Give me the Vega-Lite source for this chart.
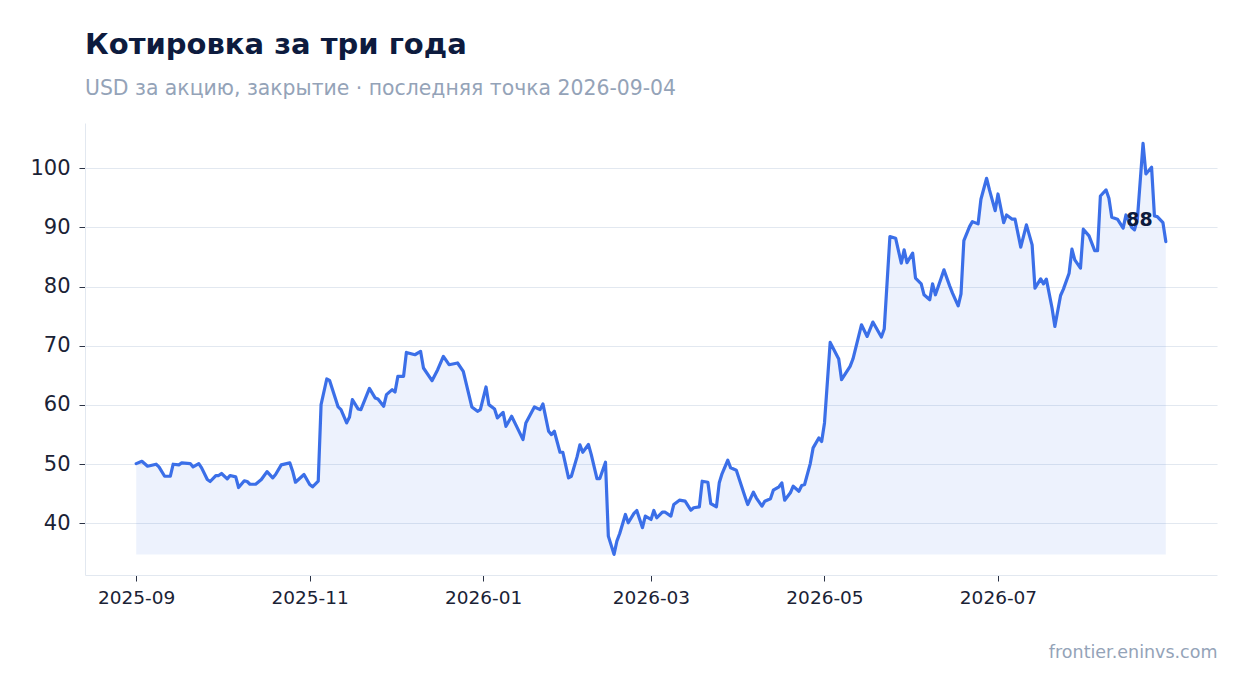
{
  "$schema": "https://vega.github.io/schema/vega-lite/v6.json",
  "width": 1132,
  "height": 452,
  "autosize": {"type": "none"},
  "padding": {"left": 85, "top": 123, "right": 30, "bottom": 118},
  "background": "#ffffff",
  "title": {
    "text": "Котировка за три года",
    "subtitle": "USD за акцию, закрытие · последняя точка 2026-09-04",
    "anchor": "start",
    "frame": "group",
    "font": "DejaVu Sans",
    "fontSize": 29,
    "fontWeight": "bold",
    "color": "#0d1b3e",
    "subtitleFont": "DejaVu Sans",
    "subtitleFontSize": 20.4,
    "subtitleColor": "#94a3b8",
    "subtitlePadding": 19,
    "offset": 24
  },
  "data": {
    "values": [
      {"date": "2025-09-01", "close": 50.1},
      {"date": "2025-09-03", "close": 50.5},
      {"date": "2025-09-05", "close": 49.66},
      {"date": "2025-09-08", "close": 50.0},
      {"date": "2025-09-09", "close": 49.56},
      {"date": "2025-09-11", "close": 47.97},
      {"date": "2025-09-13", "close": 47.97},
      {"date": "2025-09-14", "close": 50.0},
      {"date": "2025-09-16", "close": 49.9},
      {"date": "2025-09-17", "close": 50.23},
      {"date": "2025-09-20", "close": 50.11},
      {"date": "2025-09-21", "close": 49.56},
      {"date": "2025-09-23", "close": 50.11},
      {"date": "2025-09-24", "close": 49.39},
      {"date": "2025-09-26", "close": 47.42},
      {"date": "2025-09-27", "close": 47.08},
      {"date": "2025-09-29", "close": 48.09},
      {"date": "2025-09-30", "close": 48.09},
      {"date": "2025-10-01", "close": 48.43},
      {"date": "2025-10-03", "close": 47.53},
      {"date": "2025-10-04", "close": 48.09},
      {"date": "2025-10-06", "close": 47.87},
      {"date": "2025-10-07", "close": 46.07},
      {"date": "2025-10-09", "close": 47.2},
      {"date": "2025-10-10", "close": 47.08},
      {"date": "2025-10-11", "close": 46.62},
      {"date": "2025-10-13", "close": 46.62},
      {"date": "2025-10-15", "close": 47.42},
      {"date": "2025-10-17", "close": 48.76},
      {"date": "2025-10-19", "close": 47.7},
      {"date": "2025-10-20", "close": 48.26},
      {"date": "2025-10-22", "close": 49.89},
      {"date": "2025-10-25", "close": 50.23},
      {"date": "2025-10-26", "close": 48.82},
      {"date": "2025-10-27", "close": 46.96},
      {"date": "2025-10-30", "close": 48.26},
      {"date": "2025-11-01", "close": 46.57},
      {"date": "2025-11-02", "close": 46.19},
      {"date": "2025-11-04", "close": 47.13},
      {"date": "2025-11-05", "close": 60.06},
      {"date": "2025-11-07", "close": 64.39},
      {"date": "2025-11-08", "close": 64.15},
      {"date": "2025-11-11", "close": 59.67},
      {"date": "2025-11-12", "close": 59.21},
      {"date": "2025-11-14", "close": 56.97},
      {"date": "2025-11-15", "close": 57.98},
      {"date": "2025-11-16", "close": 60.9},
      {"date": "2025-11-18", "close": 59.33},
      {"date": "2025-11-19", "close": 59.21},
      {"date": "2025-11-22", "close": 62.8},
      {"date": "2025-11-24", "close": 61.19},
      {"date": "2025-11-25", "close": 61.02},
      {"date": "2025-11-27", "close": 59.77},
      {"date": "2025-11-28", "close": 61.74},
      {"date": "2025-11-30", "close": 62.59},
      {"date": "2025-12-01", "close": 62.2},
      {"date": "2025-12-02", "close": 64.83},
      {"date": "2025-12-04", "close": 64.83},
      {"date": "2025-12-05", "close": 68.87},
      {"date": "2025-12-08", "close": 68.48},
      {"date": "2025-12-10", "close": 69.04},
      {"date": "2025-12-11", "close": 66.24},
      {"date": "2025-12-14", "close": 64.1},
      {"date": "2025-12-16", "close": 65.96},
      {"date": "2025-12-18", "close": 68.2},
      {"date": "2025-12-20", "close": 66.8},
      {"date": "2025-12-23", "close": 67.09},
      {"date": "2025-12-25", "close": 65.67},
      {"date": "2025-12-28", "close": 59.67},
      {"date": "2025-12-30", "close": 58.93},
      {"date": "2025-12-31", "close": 59.21},
      {"date": "2026-01-02", "close": 63.04},
      {"date": "2026-01-03", "close": 60.06},
      {"date": "2026-01-05", "close": 59.33},
      {"date": "2026-01-06", "close": 57.82},
      {"date": "2026-01-08", "close": 58.76},
      {"date": "2026-01-09", "close": 56.4},
      {"date": "2026-01-11", "close": 58.09},
      {"date": "2026-01-13", "close": 56.13},
      {"date": "2026-01-15", "close": 54.16},
      {"date": "2026-01-16", "close": 56.97},
      {"date": "2026-01-19", "close": 59.67},
      {"date": "2026-01-21", "close": 59.21},
      {"date": "2026-01-22", "close": 60.18},
      {"date": "2026-01-24", "close": 55.56},
      {"date": "2026-01-25", "close": 55.0},
      {"date": "2026-01-26", "close": 55.56},
      {"date": "2026-01-28", "close": 52.02},
      {"date": "2026-01-29", "close": 52.02},
      {"date": "2026-01-31", "close": 47.7},
      {"date": "2026-02-01", "close": 47.97},
      {"date": "2026-02-03", "close": 51.24},
      {"date": "2026-02-04", "close": 53.26},
      {"date": "2026-02-05", "close": 52.02},
      {"date": "2026-02-07", "close": 53.32},
      {"date": "2026-02-08", "close": 51.63},
      {"date": "2026-02-10", "close": 47.58},
      {"date": "2026-02-11", "close": 47.58},
      {"date": "2026-02-13", "close": 50.33},
      {"date": "2026-02-14", "close": 37.86},
      {"date": "2026-02-16", "close": 34.78},
      {"date": "2026-02-17", "close": 37.02},
      {"date": "2026-02-18", "close": 38.31},
      {"date": "2026-02-20", "close": 41.52},
      {"date": "2026-02-21", "close": 40.12},
      {"date": "2026-02-23", "close": 41.69},
      {"date": "2026-02-24", "close": 42.19},
      {"date": "2026-02-26", "close": 39.28},
      {"date": "2026-02-27", "close": 41.23},
      {"date": "2026-03-01", "close": 40.67},
      {"date": "2026-03-02", "close": 42.19},
      {"date": "2026-03-03", "close": 40.96},
      {"date": "2026-03-05", "close": 41.9},
      {"date": "2026-03-06", "close": 41.9},
      {"date": "2026-03-08", "close": 41.23},
      {"date": "2026-03-09", "close": 43.2},
      {"date": "2026-03-11", "close": 43.93},
      {"date": "2026-03-13", "close": 43.76},
      {"date": "2026-03-15", "close": 42.24},
      {"date": "2026-03-16", "close": 42.65},
      {"date": "2026-03-18", "close": 42.81},
      {"date": "2026-03-19", "close": 47.13},
      {"date": "2026-03-21", "close": 46.96},
      {"date": "2026-03-22", "close": 43.37},
      {"date": "2026-03-24", "close": 42.81},
      {"date": "2026-03-25", "close": 46.86},
      {"date": "2026-03-26", "close": 48.43},
      {"date": "2026-03-28", "close": 50.67},
      {"date": "2026-03-29", "close": 49.39},
      {"date": "2026-03-31", "close": 48.98},
      {"date": "2026-04-03", "close": 44.6},
      {"date": "2026-04-04", "close": 43.2},
      {"date": "2026-04-06", "close": 45.28},
      {"date": "2026-04-07", "close": 44.33},
      {"date": "2026-04-09", "close": 42.92},
      {"date": "2026-04-10", "close": 43.76},
      {"date": "2026-04-12", "close": 44.16},
      {"date": "2026-04-13", "close": 45.61},
      {"date": "2026-04-15", "close": 46.19},
      {"date": "2026-04-16", "close": 46.86},
      {"date": "2026-04-17", "close": 43.93},
      {"date": "2026-04-19", "close": 45.17},
      {"date": "2026-04-20", "close": 46.29},
      {"date": "2026-04-22", "close": 45.44},
      {"date": "2026-04-23", "close": 46.4},
      {"date": "2026-04-24", "close": 46.57},
      {"date": "2026-04-26", "close": 50.11},
      {"date": "2026-04-27", "close": 52.76},
      {"date": "2026-04-29", "close": 54.44},
      {"date": "2026-04-30", "close": 53.82},
      {"date": "2026-05-01", "close": 56.97},
      {"date": "2026-05-03", "close": 70.56},
      {"date": "2026-05-06", "close": 67.76},
      {"date": "2026-05-07", "close": 64.27},
      {"date": "2026-05-10", "close": 66.51},
      {"date": "2026-05-11", "close": 67.76},
      {"date": "2026-05-14", "close": 73.54},
      {"date": "2026-05-16", "close": 71.57},
      {"date": "2026-05-18", "close": 74.0},
      {"date": "2026-05-21", "close": 71.47},
      {"date": "2026-05-22", "close": 72.82},
      {"date": "2026-05-24", "close": 88.42},
      {"date": "2026-05-26", "close": 88.15},
      {"date": "2026-05-28", "close": 83.94},
      {"date": "2026-05-29", "close": 86.18},
      {"date": "2026-05-30", "close": 84.04},
      {"date": "2026-06-01", "close": 85.63},
      {"date": "2026-06-02", "close": 81.41},
      {"date": "2026-06-04", "close": 80.45},
      {"date": "2026-06-05", "close": 78.6},
      {"date": "2026-06-07", "close": 77.76},
      {"date": "2026-06-08", "close": 80.45},
      {"date": "2026-06-09", "close": 78.6},
      {"date": "2026-06-11", "close": 81.41},
      {"date": "2026-06-12", "close": 82.81},
      {"date": "2026-06-14", "close": 80.11},
      {"date": "2026-06-15", "close": 78.88},
      {"date": "2026-06-17", "close": 76.74},
      {"date": "2026-06-18", "close": 78.77},
      {"date": "2026-06-19", "close": 87.75},
      {"date": "2026-06-21", "close": 90.11},
      {"date": "2026-06-22", "close": 90.95},
      {"date": "2026-06-24", "close": 90.57},
      {"date": "2026-06-25", "close": 94.73},
      {"date": "2026-06-27", "close": 98.27},
      {"date": "2026-06-28", "close": 96.3},
      {"date": "2026-06-30", "close": 92.81},
      {"date": "2026-07-01", "close": 95.62},
      {"date": "2026-07-03", "close": 90.78},
      {"date": "2026-07-04", "close": 92.08},
      {"date": "2026-07-06", "close": 91.36},
      {"date": "2026-07-07", "close": 91.36},
      {"date": "2026-07-09", "close": 86.64},
      {"date": "2026-07-11", "close": 90.4},
      {"date": "2026-07-13", "close": 87.03},
      {"date": "2026-07-14", "close": 79.73},
      {"date": "2026-07-16", "close": 81.29},
      {"date": "2026-07-17", "close": 80.45},
      {"date": "2026-07-18", "close": 81.24},
      {"date": "2026-07-20", "close": 76.36},
      {"date": "2026-07-21", "close": 73.25},
      {"date": "2026-07-23", "close": 78.48},
      {"date": "2026-07-24", "close": 79.56},
      {"date": "2026-07-26", "close": 82.25},
      {"date": "2026-07-27", "close": 86.3},
      {"date": "2026-07-28", "close": 84.5},
      {"date": "2026-07-30", "close": 83.1},
      {"date": "2026-07-31", "close": 89.67},
      {"date": "2026-08-02", "close": 88.54},
      {"date": "2026-08-04", "close": 86.06},
      {"date": "2026-08-05", "close": 86.06},
      {"date": "2026-08-06", "close": 95.28},
      {"date": "2026-08-08", "close": 96.3},
      {"date": "2026-08-09", "close": 94.9},
      {"date": "2026-08-10", "close": 91.69},
      {"date": "2026-08-12", "close": 91.36},
      {"date": "2026-08-14", "close": 89.84},
      {"date": "2026-08-15", "close": 92.08},
      {"date": "2026-08-17", "close": 90.0},
      {"date": "2026-08-18", "close": 89.55},
      {"date": "2026-08-19", "close": 91.36},
      {"date": "2026-08-21", "close": 104.17},
      {"date": "2026-08-22", "close": 99.0},
      {"date": "2026-08-24", "close": 100.12},
      {"date": "2026-08-25", "close": 91.91},
      {"date": "2026-08-26", "close": 91.8},
      {"date": "2026-08-28", "close": 90.78},
      {"date": "2026-08-29", "close": 87.58}
    ]
  },
  "encoding": {
    "x": {
      "field": "date",
      "type": "temporal",
      "scale": {"domain": [{"year": 2025, "month": 8, "date": 14}, {"year": 2026, "month": 9, "date": 16}]},
      "axis": {
        "values": [
          {"year": 2025, "month": 9, "date": 1},
          {"year": 2025, "month": 11, "date": 1},
          {"year": 2026, "month": 1, "date": 1},
          {"year": 2026, "month": 3, "date": 1},
          {"year": 2026, "month": 5, "date": 1},
          {"year": 2026, "month": 7, "date": 1}
        ],
        "format": "%Y-%m",
        "title": "frontier.eninvs.com",
        "titleAnchor": "end",
        "titleAlign": "right",
        "titleFont": "DejaVu Sans",
        "titleFontSize": 17.5,
        "titleFontWeight": "normal",
        "titleColor": "#94a3b8",
        "titlePadding": 37,
        "grid": false,
        "labelFontSize": 18.5,
        "labelPadding": 7,
        "tickSize": 6
      }
    },
    "y": {
      "field": "close",
      "type": "quantitative",
      "scale": {"domain": [31.3, 107.6], "nice": false, "zero": false},
      "axis": {
        "values": [40, 50, 60, 70, 80, 90, 100],
        "title": null,
        "labelFontSize": 21,
        "labelPadding": 9,
        "tickSize": 6
      }
    }
  },
  "layer": [
    {
      "mark": {"type": "area", "color": "#3b6fe8", "opacity": 0.09},
      "encoding": {"y2": {"datum": 34.78}}
    },
    {
      "mark": {"type": "line", "color": "#3b6fe8", "strokeWidth": 3.2, "strokeJoin": "round", "strokeCap": "round"}
    },
    {
      "transform": [{"aggregate": [{"op": "argmax", "field": "date", "as": "last"}]}],
      "mark": {"type": "text", "align": "right", "baseline": "middle", "dx": -13, "dy": -22, "font": "DejaVu Sans", "fontSize": 19, "fontWeight": "bold", "color": "#0d1b3e"},
      "encoding": {
        "x": {"field": "last.date", "type": "temporal"},
        "y": {"field": "last.close", "type": "quantitative"},
        "text": {"field": "last.close", "type": "quantitative", "format": ".0f"}
      }
    }
  ],
  "config": {
    "view": {"stroke": null},
    "font": "DejaVu Sans",
    "axis": {
      "labelFont": "DejaVu Sans",
      "labelColor": "#1a2235",
      "tickColor": "#2a3245",
      "domainColor": "#e2e8f0",
      "gridColor": "#e2e8f0",
      "gridWidth": 1.2
    },
    "axisY": {"grid": true, "domain": true}
  }
}
